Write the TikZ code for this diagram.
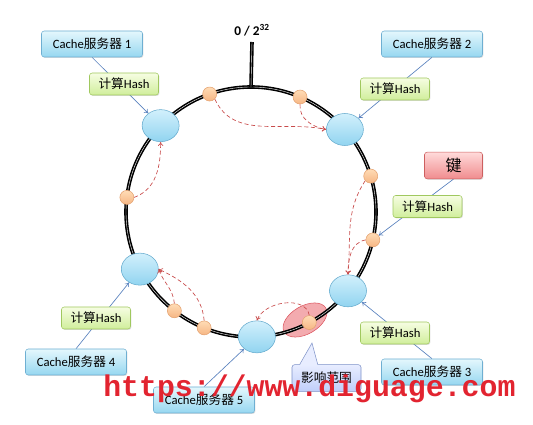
\documentclass[tikz,border=0pt]{standalone}
\usepackage{fontspec}
\setmainfont{Carlito}
\newfontfamily\cjk{Noto Sans CJK SC}
\newfontfamily\webfont{Liberation Mono}
\usetikzlibrary{shapes.geometric, arrows.meta, positioning, calc, shadows}
\definecolor{cachetop}{RGB}{228,247,253}
\definecolor{cachebot}{RGB}{150,215,240}
\definecolor{cacheline}{RGB}{110,175,210}
\definecolor{hashtop}{RGB}{246,253,226}
\definecolor{hashbot}{RGB}{208,238,155}
\definecolor{hashline}{RGB}{160,200,95}
\definecolor{keytop}{RGB}{255,218,218}
\definecolor{keybot}{RGB}{240,140,142}
\definecolor{keyline}{RGB}{205,95,95}
\definecolor{srvtop}{RGB}{210,240,252}
\definecolor{srvbot}{RGB}{145,212,240}
\definecolor{srvline}{RGB}{100,170,205}
\definecolor{balltop}{RGB}{255,220,182}
\definecolor{ballbot}{RGB}{246,182,132}
\definecolor{ballline}{RGB}{228,162,112}
\definecolor{calltop}{RGB}{232,237,255}
\definecolor{callbot}{RGB}{192,206,250}
\definecolor{callline}{RGB}{125,145,200}
\definecolor{hotfill}{RGB}{240,150,155}
\definecolor{hotline}{RGB}{220,85,95}
\definecolor{linkblue}{RGB}{90,130,190}
\definecolor{hopred}{RGB}{200,75,75}
\definecolor{webred}{RGB}{226,36,48}
\pgfdeclarelayer{back}
\pgfsetlayers{back,main}

\begin{document}
\begin{tikzpicture}[
        x=0.75pt, y=0.75pt,
        font=\fontsize{9.5}{11}\selectfont,
        ring/.style={draw=black, line width=1.2pt, double=white, double distance=0.3pt},
        srv/.style={draw=srvline, ellipse, minimum width=27.75pt, minimum height=24pt, top color=srvtop, bottom color=srvbot},
        hkey/.style={draw=ballline, circle, minimum size=10.5pt, inner sep=0pt, top color=balltop, bottom color=ballbot},
        boxshadow/.style={drop shadow={opacity=0.25, shadow xshift=0.7pt, shadow yshift=-0.7pt}},
        cachebox/.style={draw=cacheline, rounded corners=2pt, minimum width=75.75pt, minimum height=19.5pt, inner sep=1pt, top color=cachetop, bottom color=cachebot, boxshadow},
        hashbox/.style={draw=hashline, rounded corners=2pt, minimum width=51.75pt, minimum height=16.5pt, inner sep=1pt, top color=hashtop, bottom color=hashbot, boxshadow},
        keybox/.style={draw=keyline, rounded corners=2pt, minimum width=43.5pt, minimum height=20pt, inner sep=1pt, top color=keytop, bottom color=keybot, boxshadow},
        callbox/.style={draw=callline, rounded corners=2pt, minimum width=51.75pt, minimum height=20pt, inner sep=1pt, top color=calltop, bottom color=callbot},
        link/.style={-{To[length=3pt,width=4pt]}, draw=linkblue, line width=0.5pt},
        hop/.style={-{To[length=3pt,width=4pt]}, draw=hopred, densely dashed, line width=0.5pt}
    ]
        \useasboundingbox (0,0) rectangle (533,425);
        \coordinate (c) at (251,213);

        \node[ellipse, draw=hotline, fill=hotfill, fill opacity=0.8, minimum width=36pt, minimum height=21pt, rotate=30] (hot) at (305,105) {};
        \draw[ring] (c) circle (125);
        \coordinate (zero) at (252,383);
        \draw[ring] ($(c)+(0,125)$) -- (zero);
        \node[above=3pt of zero, inner sep=1pt, font=\fontsize{10}{12}\selectfont\bfseries] (zerolbl) {0 / 2\textsuperscript{32}};

        \node[srv] (srv1) at ($(c)+(136.3:125)$) {};
        \node[srv] (srv2) at ($(c)+(41.3:125)$) {};
        \node[srv] (srv3) at ($(c)+(-39.1:125)$) {};
        \node[srv] (srv4) at ($(c)+(207.2:125)$) {};
        \node[srv] (srv5) at ($(c)+(-87.3:125)$) {};

        \node[hkey] (k1) at ($(c)+(109.3:125)$) {};
        \node[hkey] (k2) at ($(c)+(66.9:125)$) {};
        \node[hkey] (k3) at ($(c)+(16.7:125)$) {};
        \node[hkey] (k4) at ($(c)+(-12.9:125)$) {};
        \node[hkey] (k5) at ($(c)+(-62.2:125)$) {};
        \node[hkey] (k6) at ($(c)+(-112:125)$) {};
        \node[hkey] (k7) at ($(c)+(-127.8:125)$) {};
        \node[hkey] (k8) at ($(c)+(173.3:125)$) {};

        \node[cachebox] (cache1) at (92,381)  {Cache{\cjk 服务器} 1};
        \node[cachebox] (cache2) at (432,381) {Cache{\cjk 服务器} 2};
        \node[cachebox] (cache3) at (432,53)  {Cache{\cjk 服务器} 3};
        \node[cachebox] (cache4) at (76,63)   {Cache{\cjk 服务器} 4};
        \node[cachebox] (cache5) at (204,25)  {Cache{\cjk 服务器} 5};
        \node[keybox, font=\fontsize{12}{14}\selectfont] (jian) at (453.5,259.5) {\cjk 键};

        \node[hashbox] (hash1) at (124,341)   {{\cjk 计算}Hash};
        \node[hashbox] (hash2) at (395,336)   {{\cjk 计算}Hash};
        \node[hashbox] (hashk) at (427.5,218.5) {{\cjk 计算}Hash};
        \node[hashbox] (hash3) at (395,92)    {{\cjk 计算}Hash};
        \node[hashbox] (hash4) at (96,107)    {{\cjk 计算}Hash};

        \begin{pgfonlayer}{back}
        \draw[link] (cache1.south) -- (srv1);
        \draw[link] (cache2.south) -- (srv2);
        \draw[link] (jian.south)   -- (k4);
        \draw[link] (cache3.north) -- (srv3);
        \draw[link] (cache4.north) -- (srv4);
        \draw[link] (cache5.north) -- (srv5);
        \end{pgfonlayer}

        \draw[hop] (k1.-45)   to[out=-65, in=168] (srv2.west);
        \draw[hop] (k2.south) to[out=-95, in=170] (srv2.west);
        \draw[hop] (k3.220)   to[out=-123, in=85] (srv3.north);
        \draw[hop] (k4.west)  to[out=190, in=90] (srv3.north);
        \draw[hop] (k5.north) to[out=100, in=70] (srv5.north);
        \draw[hop] (k6.north) to[out=95, in=-25] (srv4.east);
        \draw[hop] (k7.north) to[out=95, in=-70] (srv4.east);
        \draw[hop] (k8.east)  to[out=20, in=-90] (srv1.south);

        \node[callbox] (range) at (326.5,47) {\cjk 影响范围};
        \coordinate (tip) at (312,82);
        \fill[calltop] ($(range.north west)+(8,-1)$) -- (tip) -- ($(range.north west)+(26,-1)$) -- cycle;
        \draw[callline] ($(range.north west)+(8,0)$) -- (tip) -- ($(range.north west)+(26,0)$);

        \node[anchor=base west, inner sep=0pt, text=webred, font=\webfont\bfseries\fontsize{22.4}{24}\selectfont] (site) at (103,28) {https://www.diguage.com};
    \end{tikzpicture}
\end{document}
